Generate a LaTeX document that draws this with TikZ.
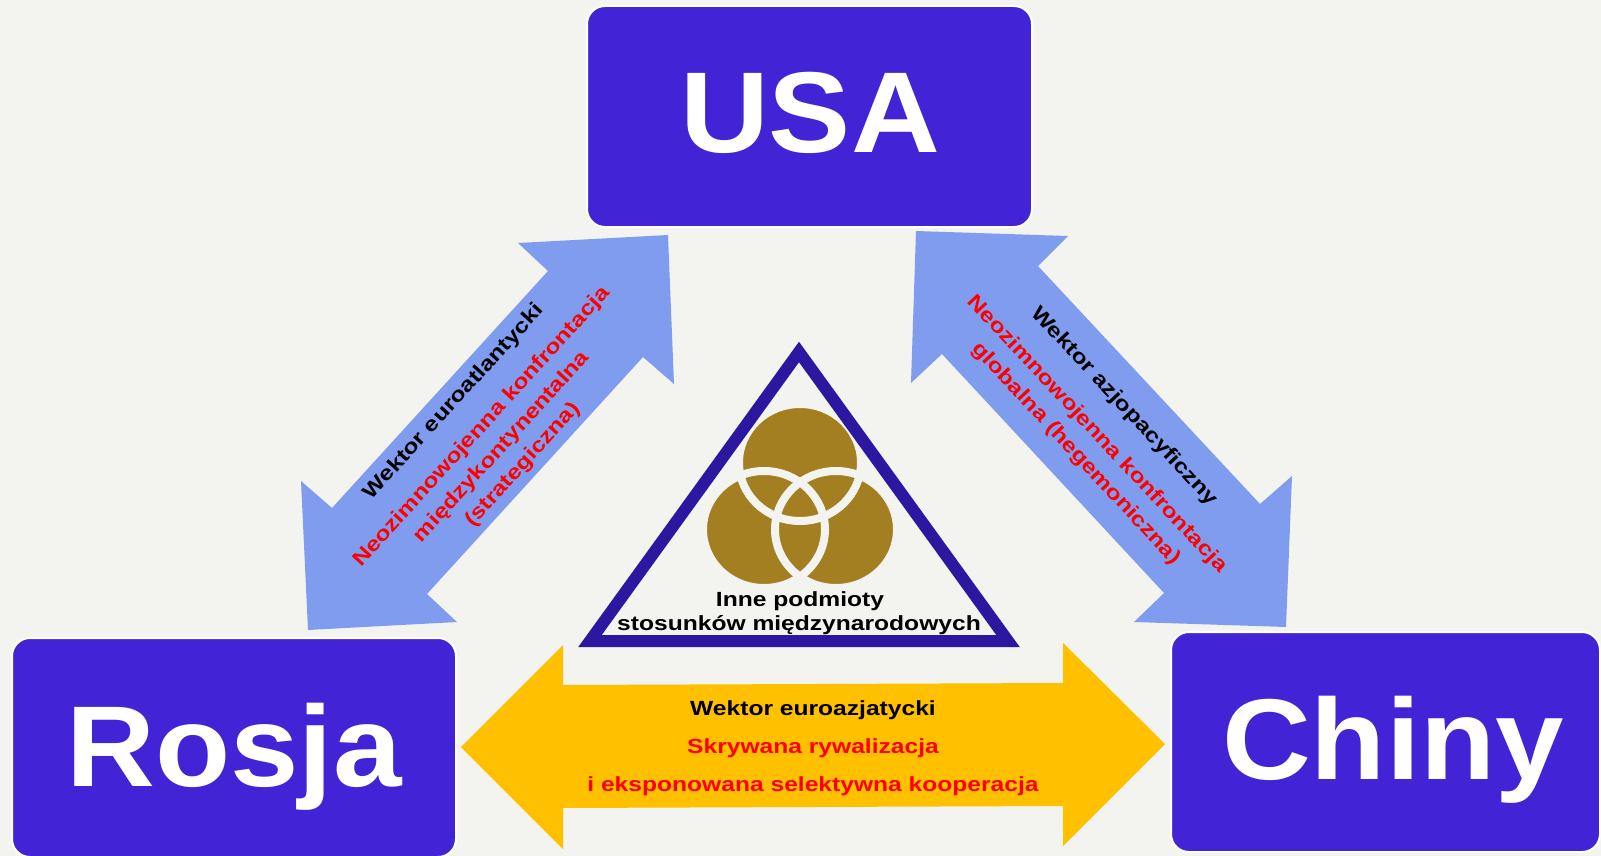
\documentclass[tikz,border=0pt]{standalone}
\usepackage{fontspec}
\setmainfont{Liberation Sans}
\newfontfamily\smallfont[FakeStretch=1.2]{Liberation Sans}
\newfontfamily\bigfont[FakeStretch=1.07]{Liberation Sans}
\definecolor{bg}{RGB}{243,243,239}
\definecolor{boxblue}{RGB}{66,36,214}
\definecolor{arrowblue}{RGB}{128,156,238}
\definecolor{arrowyellow}{RGB}{255,192,0}
\definecolor{tricol}{RGB}{44,24,160}
\definecolor{gold}{RGB}{164,127,33}
\definecolor{lblred}{RGB}{255,0,0}
\begin{document}
\begin{tikzpicture}[x=1pt,y=-1pt,
  country/.style={draw=white, line width=2pt, fill=boxblue, rounded corners=18pt, inner sep=0pt},
  biglabel/.style={text=white, inner sep=0pt, anchor=base, font=\bigfont\bfseries\fontsize{115}{120}\selectfont},
  smalltxt/.style={inner sep=0pt, font=\smallfont\bfseries\fontsize{20.5}{24}\selectfont},
  blacktxt/.style={smalltxt, text=black},
  redtxt/.style={smalltxt, text=lblred},
  gap/.style={draw=bg, line width=8pt},
  ring/.style={x radius=61pt, y radius=58.5pt}
]
\fill[bg] (0,0) rectangle (1601,856);
\useasboundingbox (0,0) rectangle (1601,856);

% country boxes
\node[country, minimum width=445pt, minimum height=221pt] (usa) at (809.5,116.5) {};
\node[country, minimum width=444pt, minimum height=219pt] (rosja) at (234,747.5) {};
\node[country, minimum width=429pt, minimum height=220pt] (chiny) at (1385.5,742) {};
\node[biglabel] (usat) at (810,153) {USA};
\node[biglabel] (rosjat) at (234,786) {Rosja};
\node[biglabel] (chinyt) at (1393,779) {Chiny};

% blue double arrows
\fill[arrowblue] (668,235) -- (518,243) -- (548,271) -- (332,508) -- (301,481) -- (308,630)
  -- (457,622) -- (427,594) -- (643,357) -- (674,384) -- cycle;
\fill[arrowblue] (916,231) -- (1068,236) -- (1038,266) -- (1260,504) -- (1292,476) -- (1286,627)
  -- (1134,622) -- (1164,593) -- (942,354) -- (911,383) -- cycle;
% yellow double arrow
\fill[arrowyellow] (461,747) -- (563,645) -- (563,685) -- (1063,683) -- (1063,643) -- (1165,744)
  -- (1063,846) -- (1063,806) -- (563,808) -- (563,849) -- cycle;

% texts on left arrow
\node[blacktxt, rotate=47.7] (l1) at (454,402) {Wektor euroatlantycki};
\node[redtxt, rotate=47.7] (l2) at (482,427) {Neozimnowojenna konfrontacja};
\node[redtxt, rotate=47.7] (l3) at (502,447) {międzykontynentalna};
\node[redtxt, rotate=47.7] (l4) at (523,465) {(strategiczna)};

% texts on right arrow
\node[blacktxt, rotate=-47] (r1) at (1124,407) {Wektor azjopacyficzny};
\node[redtxt, rotate=-47] (r2) at (1097,434) {Neozimnowojenna konfrontacja};
\node[redtxt, rotate=-47] (r3) at (1076,454) {globalna (hegemoniczna)};

% texts on yellow arrow
\node[blacktxt, anchor=base] (y1) at (813,715) {Wektor euroazjatycki};
\node[redtxt, anchor=base] (y2) at (813,753) {Skrywana rywalizacja};
\node[redtxt, anchor=base] (y3) at (813,791) {i eksponowana selektywna kooperacja};

% three circles
\fill[gold] (800,462.5) ellipse [ring];
\fill[gold] (764,529.5) ellipse [ring];
\fill[gold] (836,529.5) ellipse [ring];
\draw[gap] (800,462.5) ellipse [ring];
\draw[gap] (764,529.5) ellipse [ring];
\draw[gap] (836,529.5) ellipse [ring];

% triangle
\coordinate (ta) at (799,352);
\coordinate (tl) at (590,641);
\coordinate (tr) at (1008,641);
\draw[tricol, line width=12pt, line join=miter] (ta) -- (tl) -- (tr) -- cycle;

\node[blacktxt, anchor=base] (t1) at (800,606) {Inne podmioty};
\node[blacktxt, anchor=base] (t2) at (799,630) {stosunków międzynarodowych};
\end{tikzpicture}
\end{document}
